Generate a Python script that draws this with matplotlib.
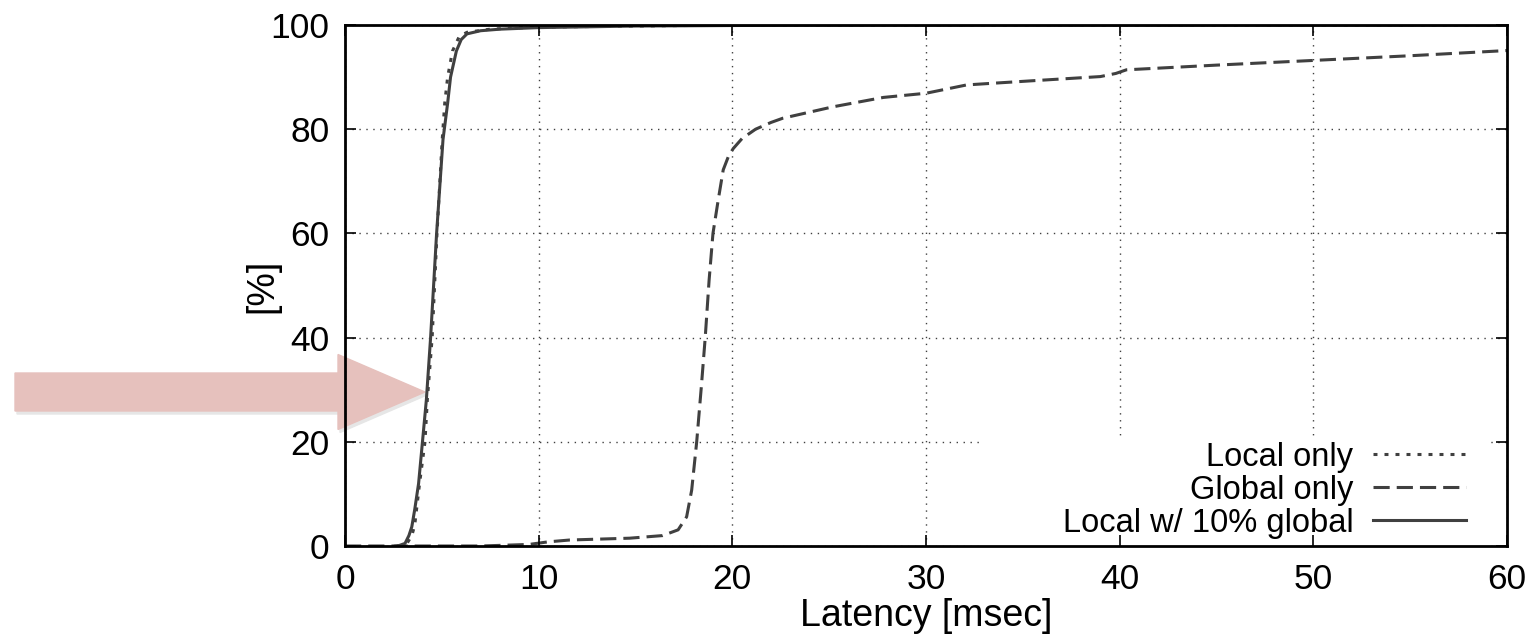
import numpy as np
import matplotlib.pyplot as plt
from matplotlib.patches import FancyArrow, Rectangle

plt.rcParams['font.family'] = ['Liberation Sans', 'DejaVu Sans']

# Kurven
local_x = [2.6, 2.8, 3.1, 3.3, 3.45, 3.6, 3.8, 4.0, 4.2, 4.42, 4.73, 5.06, 5.3, 5.45, 5.75, 6.0, 6.3, 7.0, 8.0, 10.0, 15.0, 25.0, 60.0]
local_y = [0, 0.1, 0.5, 2, 3.7, 7, 12, 20, 28, 40, 60, 78, 85, 90, 95, 97.2, 98.3, 98.9, 99.2, 99.5, 99.8, 100, 100]

lonly_x = [2.7, 2.9, 3.2, 3.45, 3.6, 3.85, 4.13, 4.25, 4.5, 4.75, 5.02, 5.15, 5.3, 5.55, 5.9, 6.3, 7.5, 10.0, 20.0, 60.0]
lonly_y = [0, 0.1, 0.5, 2, 4, 12, 20, 28, 40, 60, 78, 85, 90, 95, 97.8, 98.6, 99.2, 99.6, 100, 100]

glob_x = [0, 7, 9.5, 10.5, 11.6, 14.7, 16.4, 17.2, 17.64, 17.9, 18.16, 18.4, 18.6, 18.8, 19.0, 19.27,
          19.53, 19.8, 20.05, 20.5, 21.2, 22.0, 22.6, 25.2, 27.8, 30.0, 32.1, 35.5, 39.0, 39.8, 40.35,
          45, 50, 55, 60]
glob_y = [0, 0, 0.3, 0.8, 1.15, 1.5, 2.0, 3.1, 5.6, 10.7, 20, 30.6, 40, 51, 60, 66.4,
          72.2, 74.8, 76.3, 78.2, 80.0, 81.3, 82.1, 84.3, 86.1, 86.9, 88.5, 89.3, 90.1, 90.7, 91.4,
          92.3, 93.2, 94.1, 95.1]

labels = ["Local only", "Global only", "Local w/ 10% global"]
xticks = [0, 10, 20, 30, 40, 50, 60]
yticks = [0, 20, 40, 60, 80, 100]

W, H = 1537, 642
FS_TICK = 25.5
FS_LAB = 27
FS_LEG = 23.5
LC = '#404040'
LW = 2.2

fig = plt.figure(figsize=(W / 100, H / 100), dpi=100)
pos = [345 / W, 1 - 546 / H, (1507 - 345) / W, (546 - 25) / H]
ax = fig.add_axes(pos)
ax.patch.set_alpha(0)

ax.plot(lonly_x, lonly_y, color=LC, lw=LW, linestyle=(0, (1.3, 2.3)), label=labels[0], zorder=3)
ax.plot(glob_x, glob_y, color=LC, lw=LW, linestyle=(0, (5.3, 2.3)), label=labels[1], zorder=3)
ax.plot(local_x, local_y, color=LC, lw=LW, label=labels[2], zorder=3)

ax.set_xlim(0, 60)
ax.set_ylim(0, 100)
ax.set_xticks(xticks)
ax.set_yticks(yticks)
ax.tick_params(length=0, labelsize=FS_TICK)
ax.tick_params(axis='y', pad=11)
ax.tick_params(axis='x', pad=12)
ax.grid(True, color='0.25', lw=1.0, linestyle=(0, (1, 4)))
for s in ax.spines.values():
    s.set_visible(False)
ax.set_xlabel('Latency [msec]', fontsize=FS_LAB, labelpad=2)
ax.set_ylabel('[%]', fontsize=FS_LAB, labelpad=-7)

# weisser Kasten hinter der Legende (verdeckt das Gitter)
ax.add_patch(Rectangle((0.548, 0.0), 0.437, 0.211, transform=ax.transAxes,
                       facecolor='white', edgecolor='none', zorder=2))
leg = ax.legend(loc='lower right', bbox_to_anchor=(0.9645, 0.014), markerfirst=False,
                frameon=False, fontsize=FS_LEG, handlelength=2.85, handletextpad=0.6,
                labelspacing=0.06, borderpad=0, borderaxespad=0)

# zweite Achse nur fuer Rahmen und Ticks (liegen ueber dem Kasten)
ax2 = fig.add_axes(pos, sharex=ax, sharey=ax)
ax2.patch.set_alpha(0)
ax2.tick_params(direction='in', length=8, width=1.2, top=True, right=True,
                labelbottom=False, labelleft=False)
for s in ax2.spines.values():
    s.set_linewidth(2.0)

# Pfeil links
def fx(px):
    return px / W

def fy(py):
    return 1 - py / H

shadow = FancyArrow(fx(17), fy(395), fx(425) - fx(15), 0, width=38 / H, head_width=75 / H,
                    head_length=87 / W, length_includes_head=True, transform=fig.transFigure,
                    color='0.9', zorder=-2)
arrow = FancyArrow(fx(15), fy(392), fx(425) - fx(15), 0, width=38 / H, head_width=75 / H,
                   head_length=87 / W, length_includes_head=True, transform=fig.transFigure,
                   color='#e6c1bd', zorder=-1)
fig.patches.append(shadow)
fig.patches.append(arrow)

fig.savefig('out.png', dpi=100, facecolor='white')
